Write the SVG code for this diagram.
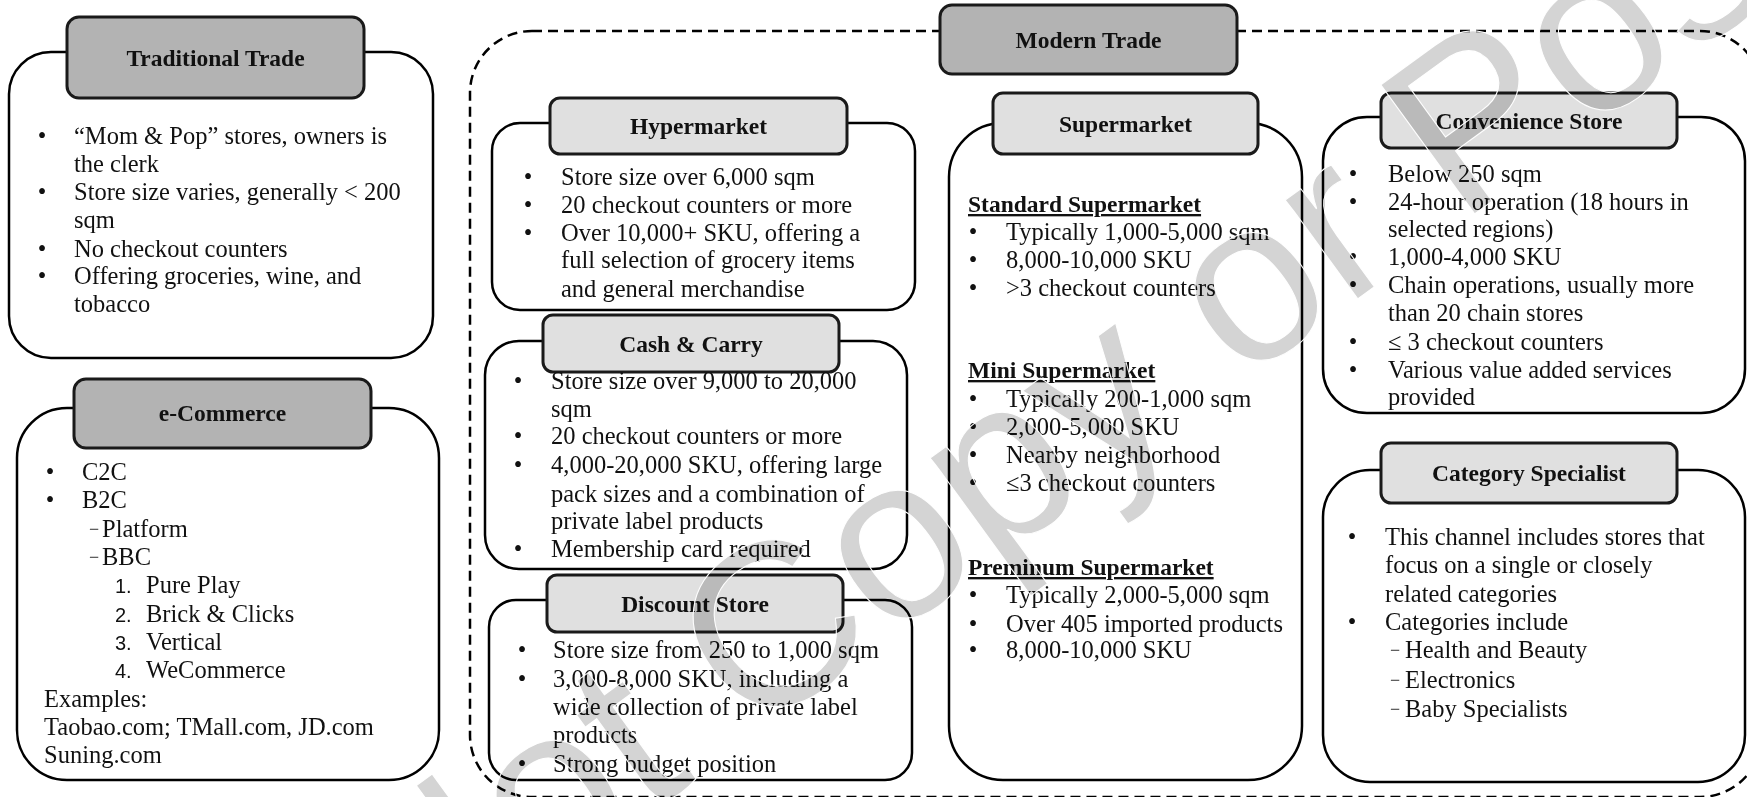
<svg xmlns="http://www.w3.org/2000/svg" width="1747" height="797" viewBox="0 0 1747 797">
<style>
.ob{fill:#fff;stroke:#000;stroke-width:2.5}
.h1{fill:#b3b3b3;stroke:#1a1a1a;stroke-width:3}
.h2{fill:#e0e0e0;stroke:#1a1a1a;stroke-width:3}
.dash{fill:none;stroke:#000;stroke-width:2.5;stroke-dasharray:10 6}
.ht{font-family:"Liberation Serif",serif;font-weight:bold;font-size:23.5px;text-anchor:middle;fill:#111}
.t{font-family:"Liberation Serif",serif;font-size:24.5px;fill:#111}
.bu{font-family:"Liberation Serif",serif;font-size:24.5px;text-anchor:middle;fill:#111}
.sh{font-family:"Liberation Serif",serif;font-weight:bold;font-size:23.5px;text-decoration:underline;fill:#111}
.n{font-family:"Liberation Sans",sans-serif;font-size:20px;fill:#111}
.d{font-family:"Liberation Serif",serif;font-size:18px;fill:#111}
.wm{font-family:"Liberation Sans",sans-serif;font-size:232px;fill:#d4d4d4;mix-blend-mode:multiply}
.wo{font-family:"Liberation Sans",sans-serif;font-size:232px;fill:none;stroke:#fff;stroke-width:1}
</style>
<rect width="1747" height="797" fill="#fff"/>

<g id="modern-trade">
<rect class="dash" x="470" y="31" width="1292" height="766" rx="62"/>
<rect class="h1" x="940" y="5" width="297" height="69" rx="12"/>
<text class="ht" x="1088.5" y="47.5">Modern Trade</text>
</g>

<g id="traditional-trade">
<rect class="ob" x="9" y="52" width="424" height="306" rx="42"/>
<rect class="h1" x="67" y="17" width="297" height="81" rx="12"/>
<text class="ht" x="215.5" y="65.5">Traditional Trade</text>
<text class="bu" x="42" y="144">•</text><text class="t" x="74" y="144">“Mom &amp; Pop” stores, owners is</text>
<text class="t" x="74" y="172">the clerk</text>
<text class="bu" x="42" y="200">•</text><text class="t" x="74" y="200">Store size varies, generally &lt; 200</text>
<text class="t" x="74" y="228">sqm</text>
<text class="bu" x="42" y="257">•</text><text class="t" x="74" y="257">No checkout counters</text>
<text class="bu" x="42" y="284">•</text><text class="t" x="74" y="284">Offering groceries, wine, and</text>
<text class="t" x="74" y="312">tobacco</text>
</g>

<g id="e-commerce">
<rect class="ob" x="17" y="408" width="422" height="372" rx="50"/>
<rect class="h1" x="74" y="379" width="297" height="69" rx="12"/>
<text class="ht" x="222.5" y="421">e-Commerce</text>
<text class="bu" x="50" y="480">•</text><text class="t" x="82" y="480">C2C</text>
<text class="bu" x="50" y="508">•</text><text class="t" x="82" y="508">B2C</text>
<text class="d" x="89" y="535">−</text><text class="t" x="102" y="537">Platform</text>
<text class="d" x="89" y="563">−</text><text class="t" x="102" y="565">BBC</text>
<text class="n" x="115" y="593">1.</text><text class="t" x="146" y="593">Pure Play</text>
<text class="n" x="115" y="622">2.</text><text class="t" x="146" y="622">Brick &amp; Clicks</text>
<text class="n" x="115" y="650">3.</text><text class="t" x="146" y="650">Vertical</text>
<text class="n" x="115" y="678">4.</text><text class="t" x="146" y="678">WeCommerce</text>
<text class="t" x="44" y="707">Examples:</text>
<text class="t" x="44" y="735">Taobao.com; TMall.com, JD.com</text>
<text class="t" x="44" y="763">Suning.com</text>
</g>

<g id="hypermarket">
<rect class="ob" x="492" y="123" width="423" height="187" rx="28"/>
<rect class="h2" x="550" y="98" width="297" height="56" rx="10"/>
<text class="ht" x="698.5" y="134">Hypermarket</text>
<text class="bu" x="528" y="185">•</text><text class="t" x="561" y="185">Store size over 6,000 sqm</text>
<text class="bu" x="528" y="213">•</text><text class="t" x="561" y="213">20 checkout counters or more</text>
<text class="bu" x="528" y="241">•</text><text class="t" x="561" y="241">Over 10,000+ SKU, offering a</text>
<text class="t" x="561" y="268">full selection of grocery items</text>
<text class="t" x="561" y="297">and general merchandise</text>
</g>

<g id="cash-carry">
<rect class="ob" x="485" y="341" width="422" height="228" rx="34"/>
<rect class="h2" x="543" y="315" width="296" height="57" rx="10"/>
<text class="ht" x="691" y="351.5">Cash &amp; Carry</text>
<text class="bu" x="518" y="389">•</text><text class="t" x="551" y="389">Store size over 9,000 to 20,000</text>
<text class="t" x="551" y="417">sqm</text>
<text class="bu" x="518" y="444">•</text><text class="t" x="551" y="444">20 checkout counters or more</text>
<text class="bu" x="518" y="473">•</text><text class="t" x="551" y="473">4,000-20,000 SKU, offering large</text>
<text class="t" x="551" y="502">pack sizes and a combination of</text>
<text class="t" x="551" y="529">private label products</text>
<text class="bu" x="518" y="557">•</text><text class="t" x="551" y="557">Membership card required</text>
</g>

<g id="discount-store">
<rect class="ob" x="489" y="600" width="423" height="180" rx="27"/>
<rect class="h2" x="547" y="575" width="296" height="57" rx="10"/>
<text class="ht" x="695" y="611.5">Discount Store</text>
<text class="bu" x="522" y="658">•</text><text class="t" x="553" y="658">Store size from 250 to 1,000 sqm</text>
<text class="bu" x="522" y="687">•</text><text class="t" x="553" y="687">3,000-8,000 SKU, including a</text>
<text class="t" x="553" y="715">wide collection of private label</text>
<text class="t" x="553" y="743">products</text>
<text class="bu" x="522" y="772">•</text><text class="t" x="553" y="772">Strong budget position</text>
</g>

<g id="supermarket">
<rect class="ob" x="949" y="123" width="353" height="657" rx="54"/>
<rect class="h2" x="993" y="93" width="265" height="61" rx="10"/>
<text class="ht" x="1125.5" y="131.5">Supermarket</text>
<text class="sh" x="968" y="212">Standard Supermarket</text>
<text class="bu" x="973" y="240">•</text><text class="t" x="1006" y="240">Typically 1,000-5,000 sqm</text>
<text class="bu" x="973" y="268">•</text><text class="t" x="1006" y="268">8,000-10,000 SKU</text>
<text class="bu" x="973" y="296">•</text><text class="t" x="1006" y="296">&gt;3 checkout counters</text>
<text class="sh" x="968" y="378">Mini Supermarket</text>
<text class="bu" x="973" y="407">•</text><text class="t" x="1006" y="407">Typically 200-1,000 sqm</text>
<text class="bu" x="973" y="435">•</text><text class="t" x="1006" y="435">2,000-5,000 SKU</text>
<text class="bu" x="973" y="463">•</text><text class="t" x="1006" y="463">Nearby neighborhood</text>
<text class="bu" x="973" y="491">•</text><text class="t" x="1006" y="491">≤3 checkout counters</text>
<text class="sh" x="968" y="575">Preminum Supermarket</text>
<text class="bu" x="973" y="603">•</text><text class="t" x="1006" y="603">Typically 2,000-5,000 sqm</text>
<text class="bu" x="973" y="632">•</text><text class="t" x="1006" y="632">Over 405 imported products</text>
<text class="bu" x="973" y="658">•</text><text class="t" x="1006" y="658">8,000-10,000 SKU</text>
</g>

<g id="convenience-store">
<rect class="ob" x="1323" y="117" width="422" height="296" rx="44"/>
<rect class="h2" x="1381" y="93" width="296" height="55" rx="10"/>
<text class="ht" x="1529" y="128.5">Convenience Store</text>
<text class="bu" x="1353" y="182">•</text><text class="t" x="1388" y="182">Below 250 sqm</text>
<text class="bu" x="1353" y="210">•</text><text class="t" x="1388" y="210">24-hour operation (18 hours in</text>
<text class="t" x="1388" y="237">selected regions)</text>
<text class="bu" x="1353" y="265">•</text><text class="t" x="1388" y="265">1,000-4,000 SKU</text>
<text class="bu" x="1353" y="293">•</text><text class="t" x="1388" y="293">Chain operations, usually more</text>
<text class="t" x="1388" y="321">than 20 chain stores</text>
<text class="bu" x="1353" y="350">•</text><text class="t" x="1388" y="350">≤ 3 checkout counters</text>
<text class="bu" x="1353" y="378">•</text><text class="t" x="1388" y="378">Various value added services</text>
<text class="t" x="1388" y="405">provided</text>
</g>

<g id="category-specialist">
<rect class="ob" x="1323" y="470" width="422" height="312" rx="47"/>
<rect class="h2" x="1381" y="443" width="296" height="60" rx="10"/>
<text class="ht" x="1529" y="481">Category Specialist</text>
<text class="bu" x="1352" y="545">•</text><text class="t" x="1385" y="545">This channel includes stores that</text>
<text class="t" x="1385" y="573">focus on a single or closely</text>
<text class="t" x="1385" y="602">related categories</text>
<text class="bu" x="1352" y="630">•</text><text class="t" x="1385" y="630">Categories include</text>
<text class="d" x="1390" y="656">−</text><text class="t" x="1405" y="658">Health and Beauty</text>
<text class="d" x="1390" y="686">−</text><text class="t" x="1405" y="688">Electronics</text>
<text class="d" x="1390" y="715">−</text><text class="t" x="1405" y="717">Baby Specialists</text>
</g>

<g id="connectors"></g>

<g id="watermark">
<text class="wm" transform="translate(405.8 990.5) rotate(-36)">Not Copy or Post</text>
<text class="wo" transform="translate(405.8 990.5) rotate(-36)">Not Copy or Post</text>
</g>
</svg>
